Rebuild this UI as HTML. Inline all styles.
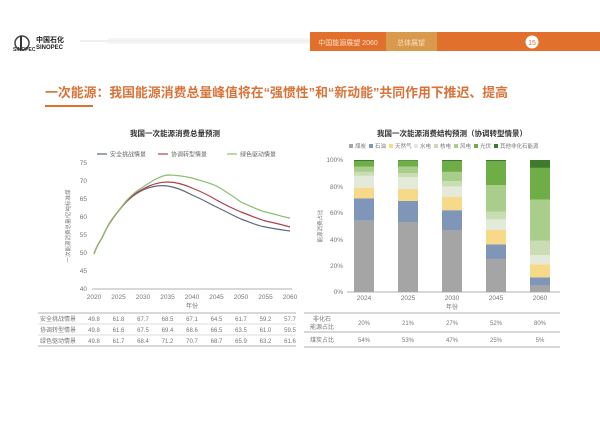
<!DOCTYPE html>
<html><head><meta charset="utf-8"><style>
html,body{margin:0;padding:0;background:#fff;}
svg{display:block;font-family:"Liberation Sans","Noto Sans CJK SC",sans-serif;}
</style></head><body>
<svg width="600" height="427" viewBox="0 0 600 427" xmlns="http://www.w3.org/2000/svg">
<rect width="600" height="427" fill="#fff"/>
<!-- header -->
<circle cx="22" cy="43" r="7" fill="none" stroke="#444" stroke-width="1.5"/>
<rect x="20" y="36" width="2" height="14" fill="#333"/>
<text x="13" y="51" font-size="5" fill="#333" font-weight="bold">SINOPEC</text>
<text x="36" y="42" font-size="7" fill="#222" font-weight="bold">中国石化</text>
<text x="36" y="49" font-size="6" fill="#222" font-weight="bold">SINOPEC</text>
<line x1="80" y1="41" x2="310" y2="41" stroke="#d8d8d8" stroke-width="0.8"/>
<line x1="108" y1="39" x2="310" y2="39" stroke="#e4e4e4" stroke-width="0.8"/>
<line x1="108" y1="43" x2="310" y2="43" stroke="#e4e4e4" stroke-width="0.8"/>
<rect x="310" y="32" width="290" height="19" fill="#e0702b"/>
<rect x="386" y="32" width="51" height="19" fill="#d99a4e"/>
<text x="348" y="45" font-size="7" fill="#fbe1cc" text-anchor="middle">中国能源展望 2060</text>
<text x="411" y="45" font-size="7" fill="#f5dfc0" text-anchor="middle">总体展望</text>
<circle cx="532" cy="42" r="6.5" fill="#fff"/>
<text x="532" y="45" font-size="7" fill="#e0702b" text-anchor="middle">15</text>
<text x="45" y="97" font-size="13" font-weight="bold" fill="#d9733a" textLength="463" lengthAdjust="spacingAndGlyphs">一次能源：我国能源消费总量峰值将在“强惯性”和“新动能”共同作用下推迟、提高</text>
<rect x="45" y="105" width="48" height="2" fill="#e0702b"/>

<!-- left chart -->
<text x="175" y="136" font-size="7.5" font-weight="bold" fill="#333" text-anchor="middle">我国一次能源消费总量预测</text>
<line x1="97" y1="154" x2="107" y2="154" stroke="#5b6b7c" stroke-width="1.2"/>
<text x="110" y="156.5" font-size="6" fill="#666">安全挑战情景</text>
<line x1="158" y1="154" x2="168" y2="154" stroke="#b0414b" stroke-width="1.2"/>
<text x="171" y="156.5" font-size="6" fill="#666">协调转型情景</text>
<line x1="227" y1="154" x2="237" y2="154" stroke="#8cbd6c" stroke-width="1.2"/>
<text x="240" y="156.5" font-size="6" fill="#666">绿色驱动情景</text>
<g font-size="6.5" fill="#777" text-anchor="end">
<text x="87" y="165">75</text><text x="87" y="183">70</text><text x="87" y="201">65</text><text x="87" y="219">60</text><text x="87" y="237">55</text><text x="87" y="255">50</text><text x="87" y="273">45</text><text x="87" y="291">40</text>
</g>
<line x1="92" y1="289" x2="292" y2="289" stroke="#999" stroke-width="0.8"/>
<text transform="translate(70,226) rotate(-90)" font-size="5.5" fill="#777" text-anchor="middle">一次能源消费总量/亿吨标准煤</text>
<g font-size="6.5" fill="#777" text-anchor="middle">
<text x="94" y="299">2020</text><text x="118.5" y="299">2025</text><text x="143" y="299">2030</text><text x="167.5" y="299">2035</text><text x="192" y="299">2040</text><text x="216.5" y="299">2045</text><text x="241" y="299">2050</text><text x="265.5" y="299">2055</text><text x="290" y="299">2060</text>
<text x="192" y="308" font-size="6">年份</text>
</g>
<path d="M94,254 C97,245 99,243 102,238 C106,229 110,221 118.5,211 C126,201 133,195 143,190 C152,186 160,185 167.5,186 C175,187 183,190 192,195 C202,199 210,204 216.5,207 C227,212 234,216 241,219 C252,223 258,226 265.5,227 C275,229 283,230 290,231" fill="none" stroke="#5b6b7c" stroke-width="1.2"/>
<path d="M94,254 C97,245 99,243 102,238 C106,229 110,221 118.5,211 C126,201 133,194 143,189 C152,184 160,182 167.5,182 C175,182 183,184 192,188 C202,192 210,196 216.5,200 C227,206 234,209 241,212 C252,216 258,219 265.5,221 C275,223 283,225 290,227" fill="none" stroke="#b0414b" stroke-width="1.2"/>
<path d="M94,254 C97,245 99,243 102,238 C106,229 110,220 118.5,211 C126,200 133,193 143,187 C152,181 160,176 167.5,175 C175,175 183,176 192,178 C202,181 210,183 216.5,186 C227,192 234,197 241,202 C252,207 258,210 265.5,212 C275,214 283,217 290,218" fill="none" stroke="#8cbd6c" stroke-width="1.2"/>
<!-- left table -->
<line x1="38" y1="313" x2="296" y2="313" stroke="#999" stroke-width="0.8"/>
<line x1="38" y1="324" x2="296" y2="324" stroke="#bbb" stroke-width="0.6"/>
<line x1="38" y1="335" x2="296" y2="335" stroke="#bbb" stroke-width="0.6"/>
<line x1="38" y1="346" x2="296" y2="346" stroke="#999" stroke-width="0.8"/>
<g font-size="6" fill="#777" text-anchor="middle">
<text x="58" y="321">安全挑战情景</text><text x="58" y="332">协调转型情景</text><text x="58" y="343">绿色驱动情景</text>
<text x="94" y="321">49.8</text><text x="118.5" y="321">61.8</text><text x="143" y="321">67.7</text><text x="167.5" y="321">68.5</text><text x="192" y="321">67.1</text><text x="216.5" y="321">64.5</text><text x="241" y="321">61.7</text><text x="265.5" y="321">59.2</text><text x="290" y="321">57.7</text>
<text x="94" y="332">49.8</text><text x="118.5" y="332">61.6</text><text x="143" y="332">67.5</text><text x="167.5" y="332">69.4</text><text x="192" y="332">68.6</text><text x="216.5" y="332">66.5</text><text x="241" y="332">63.5</text><text x="265.5" y="332">61.0</text><text x="290" y="332">59.5</text>
<text x="94" y="343">49.8</text><text x="118.5" y="343">61.7</text><text x="143" y="343">68.4</text><text x="167.5" y="343">71.2</text><text x="192" y="343">70.7</text><text x="216.5" y="343">68.7</text><text x="241" y="343">65.9</text><text x="265.5" y="343">63.2</text><text x="290" y="343">61.6</text>
</g>

<!-- right chart -->
<text x="452" y="136" font-size="7.5" font-weight="bold" fill="#333" text-anchor="middle">我国一次能源消费结构预测（协调转型情景）</text>
<g font-size="5.5" fill="#777">
<rect x="349" y="144" width="4" height="4" fill="#a5a5a5"/><text x="355" y="148">煤炭</text>
<rect x="369" y="144" width="4" height="4" fill="#7f96b8"/><text x="375" y="148">石油</text>
<rect x="389" y="144" width="4" height="4" fill="#f7d98a"/><text x="395" y="148">天然气</text>
<rect x="414" y="144" width="4" height="4" fill="#e3ead9"/><text x="420" y="148">水电</text>
<rect x="434" y="144" width="4" height="4" fill="#c9dcb3"/><text x="440" y="148">核电</text>
<rect x="454" y="144" width="4" height="4" fill="#a9cd8a"/><text x="460" y="148">风电</text>
<rect x="474" y="144" width="4" height="4" fill="#6fae47"/><text x="480" y="148">光伏</text>
<rect x="494" y="144" width="4" height="4" fill="#3d7a2a"/><text x="500" y="148">其他非化石能源</text>
</g>
<g font-size="6.5" fill="#777" text-anchor="end">
<text x="343" y="162">100%</text><text x="343" y="189">80%</text><text x="343" y="215">60%</text><text x="343" y="242">40%</text><text x="343" y="268">20%</text><text x="343" y="294">0%</text>
</g>
<text transform="translate(322,226) rotate(-90)" font-size="5.5" fill="#777" text-anchor="middle">能源消费占比</text>
<line x1="347" y1="292" x2="560" y2="292" stroke="#999" stroke-width="0.8"/>
<g>
<rect x="354" y="220.7" width="20" height="71.3" fill="#a5a5a5"/>
<rect x="354" y="198.3" width="20" height="22.4" fill="#7f96b8"/>
<rect x="354" y="187.7" width="20" height="10.6" fill="#f7d98a"/>
<rect x="354" y="175.8" width="20" height="11.9" fill="#e3ead9"/>
<rect x="354" y="171.9" width="20" height="3.9" fill="#c9dcb3"/>
<rect x="354" y="166.6" width="20" height="5.3" fill="#a9cd8a"/>
<rect x="354" y="161.3" width="20" height="5.3" fill="#6fae47"/>
<rect x="354" y="160" width="20" height="1.3" fill="#3d7a2a"/>
</g>
<g>
<rect x="398" y="222" width="20" height="70" fill="#a5a5a5"/>
<rect x="398" y="200.9" width="20" height="21.1" fill="#7f96b8"/>
<rect x="398" y="189" width="20" height="11.9" fill="#f7d98a"/>
<rect x="398" y="177.2" width="20" height="11.8" fill="#e3ead9"/>
<rect x="398" y="173.2" width="20" height="4" fill="#c9dcb3"/>
<rect x="398" y="166.6" width="20" height="6.6" fill="#a9cd8a"/>
<rect x="398" y="160.7" width="20" height="5.9" fill="#6fae47"/>
<rect x="398" y="160" width="20" height="0.7" fill="#3d7a2a"/>
</g>
<g>
<rect x="442" y="230" width="20" height="62" fill="#a5a5a5"/>
<rect x="442" y="210.2" width="20" height="19.8" fill="#7f96b8"/>
<rect x="442" y="197" width="20" height="13.2" fill="#f7d98a"/>
<rect x="442" y="186.4" width="20" height="10.6" fill="#e3ead9"/>
<rect x="442" y="181.1" width="20" height="5.3" fill="#c9dcb3"/>
<rect x="442" y="171.9" width="20" height="9.2" fill="#a9cd8a"/>
<rect x="442" y="161.3" width="20" height="10.6" fill="#6fae47"/>
<rect x="442" y="160" width="20" height="1.3" fill="#3d7a2a"/>
</g>
<g>
<rect x="486" y="259" width="20" height="33" fill="#a5a5a5"/>
<rect x="486" y="244.5" width="20" height="14.5" fill="#7f96b8"/>
<rect x="486" y="230" width="20" height="14.5" fill="#f7d98a"/>
<rect x="486" y="219.4" width="20" height="10.6" fill="#e3ead9"/>
<rect x="486" y="211.5" width="20" height="7.9" fill="#c9dcb3"/>
<rect x="486" y="185.1" width="20" height="26.4" fill="#a9cd8a"/>
<rect x="486" y="161.3" width="20" height="23.8" fill="#6fae47"/>
<rect x="486" y="160" width="20" height="1.3" fill="#3d7a2a"/>
</g>
<g>
<rect x="530" y="285.4" width="20" height="6.6" fill="#a5a5a5"/>
<rect x="530" y="277.5" width="20" height="7.9" fill="#7f96b8"/>
<rect x="530" y="264.3" width="20" height="13.2" fill="#f7d98a"/>
<rect x="530" y="255" width="20" height="9.3" fill="#e3ead9"/>
<rect x="530" y="240.5" width="20" height="14.5" fill="#c9dcb3"/>
<rect x="530" y="199.6" width="20" height="40.9" fill="#a9cd8a"/>
<rect x="530" y="167.9" width="20" height="31.7" fill="#6fae47"/>
<rect x="530" y="160" width="20" height="7.9" fill="#3d7a2a"/>
</g>
<g font-size="6.5" fill="#777" text-anchor="middle">
<text x="364" y="300">2024</text><text x="408" y="300">2025</text><text x="452" y="300">2030</text><text x="496" y="300">2045</text><text x="540" y="300">2060</text>
<text x="452" y="309" font-size="6">年份</text>
</g>
<!-- right table -->
<line x1="304" y1="313" x2="560" y2="313" stroke="#999" stroke-width="0.8"/>
<line x1="304" y1="332" x2="560" y2="332" stroke="#999" stroke-width="0.8"/>
<line x1="304" y1="347" x2="560" y2="347" stroke="#999" stroke-width="0.8"/>
<g font-size="6" fill="#777" text-anchor="middle">
<text x="322" y="321">非化石</text><text x="322" y="329">能源占比</text>
<text x="322" y="342">煤炭占比</text>
<text x="364" y="325">20%</text><text x="408" y="325">21%</text><text x="452" y="325">27%</text><text x="496" y="325">52%</text><text x="540" y="325">80%</text>
<text x="364" y="342">54%</text><text x="408" y="342">53%</text><text x="452" y="342">47%</text><text x="496" y="342">25%</text><text x="540" y="342">5%</text>
</g>
</svg>
</body></html>
